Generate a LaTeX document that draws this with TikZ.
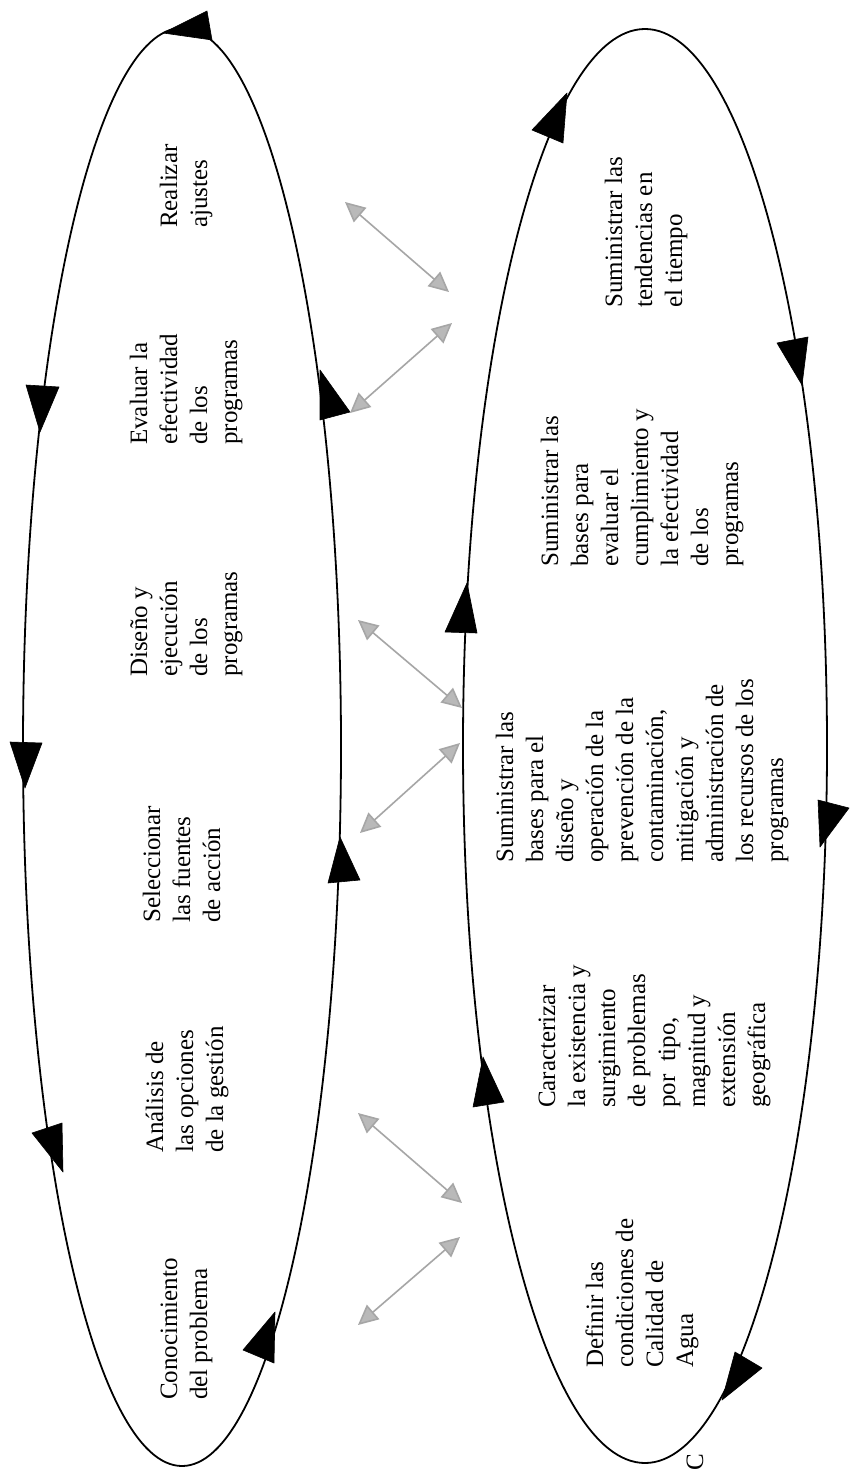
\documentclass[tikz,border=0pt]{standalone}
\usepackage{fontspec}
\setmainfont{Liberation Serif}
\usetikzlibrary{arrows.meta,shapes.geometric}
\begin{document}
\begin{tikzpicture}[x=1pt,y=-1pt,
  cyc/.style={ellipse, draw=black, line width=1.8pt, inner sep=0pt},
  lbl/.style={rotate=90, anchor=base west, align=left, inner sep=0pt,
              font=\fontsize{25}{30}\selectfont},
  head/.style={fill=black, draw=black, line width=0.6pt, line join=round},
  link/.style={draw=gray!70, line width=1.6pt,
     arrows={Triangle[length=20pt,width=19pt,fill=gray!55]-Triangle[length=20pt,width=19pt,fill=gray!55]}}]
\useasboundingbox (0,0) rectangle (858,1469);
\fill[white] (0,0) rectangle (858,1469);

% ellipses
\node[cyc, minimum width=318pt, minimum height=1438pt] (left) at (182,747) {};
\node[cyc, minimum width=364pt, minimum height=1434pt] (right) at (645,746) {};

% arrowheads, left cycle
\fill[head] (163,33) -- (207,11) -- (212,40) -- cycle;
\fill[head] (26,385) -- (59,387) -- (40,432) -- cycle;
\fill[head] (10,742) -- (42,743) -- (25,788) -- cycle;
\fill[head] (32,1133) -- (62,1123) -- (63,1172) -- cycle;
\fill[head] (275,1312) -- (274,1363) -- (243,1350) -- cycle;
\fill[head] (340,837) -- (360,880) -- (328,883) -- cycle;
\fill[head] (320,370) -- (350,412) -- (320,420) -- cycle;

% arrowheads, right cycle
\fill[head] (567,93) -- (563,143) -- (532,130) -- cycle;
\fill[head] (777,343) -- (808,337) -- (802,385) -- cycle;
\fill[head] (818,800) -- (849,808) -- (820,847) -- cycle;
\fill[head] (735,1352) -- (762,1368) -- (722,1400) -- cycle;
\fill[head] (483,1057) -- (504,1102) -- (473,1107) -- cycle;
\fill[head] (467,583) -- (477,633) -- (445,632) -- cycle;

% labels, left cycle (anchor = baseline of the last line)
\node[lbl] (t1) at (207,228) {Realizar\\ajustes};
\node[lbl] (t2) at (237,445) {Evaluar la\\efectividad\\de los\\programas};
\node[lbl] (t3) at (237,677) {Diseño y\\ejecución\\de los\\programas};
\node[lbl] (t4) at (220,923) {Seleccionar\\las fuentes\\de acción};
\node[lbl] (t5) at (223,1153) {Análisis de\\las opciones\\de la gestión};
\node[lbl] (t6) at (207,1400) {Conocimiento\\del problema};

% labels, right cycle
\node[lbl] (t7) at (682,308) {Suministrar las\\tendencias en\\el tiempo};
\node[lbl] (t8) at (738,567) {Suministrar las\\bases para\\evaluar el\\cumplimiento y\\la efectividad\\de los\\programas};
\node[lbl] (t9) at (783,863) {Suministrar las\\bases para el\\diseño y\\operación de la\\prevención de la\\contaminación,\\mitigación y\\administración de\\los recursos de los\\programas};
\node[lbl] (t10) at (765,1108) {Caracterizar\\la existencia y\\surgimiento\\de problemas\\por\ \ tipo,\\magnitud y\\extensión\\geográfica};
\node[lbl] (t11) at (693,1368) {Definir las\\condiciones de\\Calidad de\\Agua};

\node[rotate=90, inner sep=0pt, font=\fontsize{25}{30}\selectfont] (cut) at (695,1462) {C};

% grey double arrows between the cycles
\coordinate (a1) at (345,202);  \coordinate (a2) at (449,292);
\coordinate (b1) at (452,323);  \coordinate (b2) at (350,413);
\coordinate (c1) at (358,620);  \coordinate (c2) at (462,708);
\coordinate (d1) at (460,743);  \coordinate (d2) at (360,833);
\coordinate (e1) at (358,1113); \coordinate (e2) at (462,1203);
\coordinate (f1) at (460,1237); \coordinate (f2) at (358,1325);
\draw[link] (a1) -- (a2);
\draw[link] (b1) -- (b2);
\draw[link] (c1) -- (c2);
\draw[link] (d1) -- (d2);
\draw[link] (e1) -- (e2);
\draw[link] (f1) -- (f2);
\end{tikzpicture}
\end{document}
